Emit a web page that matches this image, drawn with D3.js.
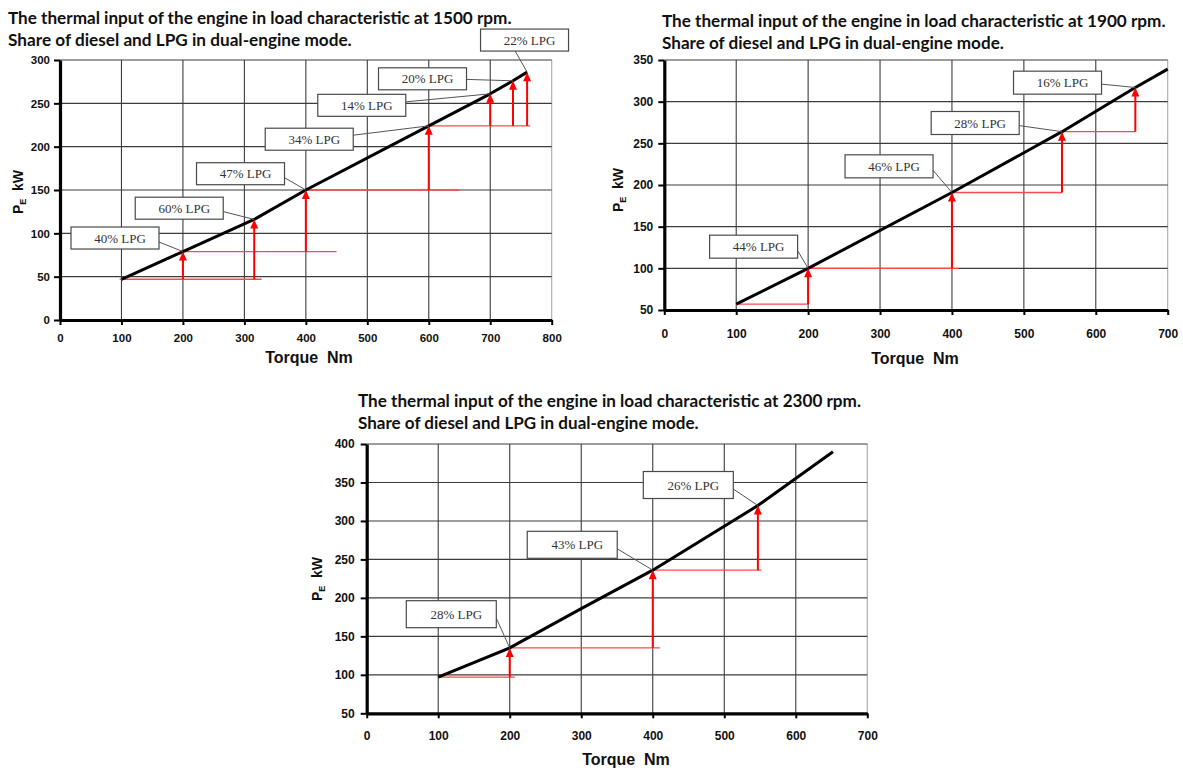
<!DOCTYPE html>
<html>
<head>
<meta charset="utf-8">
<script src="https://cdn.jsdelivr.net/npm/d3@7/dist/d3.min.js"></script>
<style>
  html, body { margin: 0; padding: 0; background: #fff; }
  svg { display: block; }
</style>
</head>
<body>
<svg id="chart" width="1183" height="770"></svg>
<script>
// ---------------- DATA ----------------
const titleLine1 = [
  "The thermal input of the engine in load characteristic at 1500 rpm.",
  "The thermal input of the engine in load characteristic at 1900 rpm.",
  "The thermal input of the engine in load characteristic at 2300 rpm."
];
const titleLine2 = "Share of diesel and LPG in dual-engine mode.";
const xAxisTitle = "Torque  Nm";

// Panel 1 : 1500 rpm
const p1XTicks = [0, 100, 200, 300, 400, 500, 600, 700, 800];
const p1YTicks = [0, 50, 100, 150, 200, 250, 300];
const p1Torque = [100, 200, 316, 400, 600, 700, 737, 760];
const p1Power  = [47, 79, 116, 150, 224, 261, 276, 286];
const p1ArrowTorque = [200, 316, 400, 600, 700, 737, 760];
const p1ArrowBase   = [47, 47, 79, 150, 224, 224, 224];
const p1HLevel = [47, 79, 150, 224];
const p1HStart = [97, 200, 400, 600];
const p1HEnd   = [328, 450, 650, 765];
const p1Labels = ["40% LPG", "60% LPG", "47% LPG", "34% LPG", "14% LPG", "20% LPG", "22% LPG"];
const p1LabelTorque = [89.5, 194, 293.7, 405.5, 491, 589.8, 755.8];
const p1LabelPower  = [94.6, 129, 168.8, 208.6, 247.7, 278.3, 323];

// Panel 2 : 1900 rpm
const p2XTicks = [0, 100, 200, 300, 400, 500, 600, 700];
const p2YTicks = [50, 100, 150, 200, 250, 300, 350];
const p2Torque = [100, 200, 400, 553, 655, 700];
const p2Power  = [57, 100, 191, 264, 317, 339];
const p2ArrowTorque = [200, 400, 553, 655];
const p2ArrowBase   = [57, 100, 191, 264];
const p2HLevel = [57, 100, 191, 264];
const p2HStart = [100, 200, 400, 553];
const p2HEnd   = [200, 409, 553, 655];
const p2Labels = ["44% LPG", "46% LPG", "28% LPG", "16% LPG"];
const p2LabelTorque = [124.2, 312.5, 432.3, 546.8];
const p2LabelPower  = [126, 222.4, 274.4, 322.8];

// Panel 3 : 2300 rpm
const p3XTicks = [0, 100, 200, 300, 400, 500, 600, 700];
const p3YTicks = [50, 100, 150, 200, 250, 300, 350, 400];
const p3Torque = [100, 200, 300, 400, 547, 652];
const p3Power  = [97, 135, 186, 236, 320, 390];
const p3ArrowTorque = [200, 400, 547];
const p3ArrowBase   = [97, 135, 236];
const p3HLevel = [97, 135, 236];
const p3HStart = [100, 200, 400];
const p3HEnd   = [207, 410, 552];
const p3Labels = ["28% LPG", "43% LPG", "26% LPG"];
const p3LabelTorque = [118.3, 287.4, 449.7];
const p3LabelPower  = [178.8, 269, 346.7];

// ---------------- LAYOUT ----------------
const svg = d3.select("#chart");

const panels = [
  {
    xDomain: [0, 800], yDomain: [0, 300], left: 60, right: 551.7, top: 60, bottom: 320,
    xTicks: p1XTicks, yTicks: p1YTicks, torque: p1Torque, power: p1Power,
    arrowT: p1ArrowTorque, arrowB: p1ArrowBase,
    hLevel: p1HLevel, hStart: p1HStart, hEnd: p1HEnd,
    labels: p1Labels, labelT: p1LabelTorque, labelP: p1LabelPower,
    boxW: 88, boxH: 22, tickFs: 11.5, yGap: 10, xLabOff: 21.7,
    title: titleLine1[0], tx: 8, tb1: 24, tb2: 46, tw1: 504, tw2: 344,
    xtCx: 309, xtB: 363, ytX: 23, ytY: 192
  },
  {
    xDomain: [0, 700], yDomain: [50, 350], left: 664.3, right: 1167.7, top: 60, bottom: 310,
    xTicks: p2XTicks, yTicks: p2YTicks, torque: p2Torque, power: p2Power,
    arrowT: p2ArrowTorque, arrowB: p2ArrowBase,
    hLevel: p2HLevel, hStart: p2HStart, hEnd: p2HEnd,
    labels: p2Labels, labelT: p2LabelTorque, labelP: p2LabelPower,
    boxW: 88, boxH: 23, tickFs: 12, yGap: 11, xLabOff: 28,
    title: titleLine1[1], tx: 662, tb1: 26.5, tb2: 48.5, tw1: 504, tw2: 342,
    xtCx: 915, xtB: 364, ytX: 623, ytY: 190
  },
  {
    xDomain: [0, 700], yDomain: [50, 400], left: 366.7, right: 867.3, top: 444, bottom: 713.3,
    xTicks: p3XTicks, yTicks: p3YTicks, torque: p3Torque, power: p3Power,
    arrowT: p3ArrowTorque, arrowB: p3ArrowBase,
    hLevel: p3HLevel, hStart: p3HStart, hEnd: p3HEnd,
    labels: p3Labels, labelT: p3LabelTorque, labelP: p3LabelPower,
    boxW: 90, boxH: 27, tickFs: 12, yGap: 12, xLabOff: 27,
    title: titleLine1[2], tx: 358, tb1: 406.5, tb2: 428.5, tw1: 503, tw2: 341,
    xtCx: 626, xtB: 765, ytX: 321.5, ytY: 579
  }
];

function fitText(sel, target, startSize) {
  sel.style("font-size", startSize + "px");
  const len = sel.node().getComputedTextLength();
  if (len > 0) sel.style("font-size", (startSize * target / len).toFixed(2) + "px");
}

function drawPanel(c) {
  const g = svg.append("g");
  const x = d3.scaleLinear().domain(c.xDomain).range([c.left, c.right]);
  const y = d3.scaleLinear().domain(c.yDomain).range([c.bottom, c.top]);
  const xMax = c.xDomain[1];

  // grid
  g.append("g").selectAll("line").data(c.xTicks.filter(d => d > c.xDomain[0]))
    .join("line")
    .attr("x1", d => x(d)).attr("x2", d => x(d))
    .attr("y1", y(c.yDomain[1])).attr("y2", y(c.yDomain[0]))
    .attr("stroke", d => d === xMax ? "#a8a8a8" : "#3c3c3c")
    .attr("stroke-width", 1.1);
  g.append("g").selectAll("line").data(c.yTicks.filter(d => d > c.yDomain[0]))
    .join("line")
    .attr("x1", x(c.xDomain[0])).attr("x2", x(xMax))
    .attr("y1", d => y(d)).attr("y2", d => y(d))
    .attr("stroke", "#3c3c3c")
    .attr("stroke-width", 1.1);

  // red horizontal guide lines
  g.append("g").selectAll("line").data(c.hLevel)
    .join("line")
    .attr("x1", (d, i) => x(c.hStart[i])).attr("x2", (d, i) => x(c.hEnd[i]))
    .attr("y1", d => y(d)).attr("y2", d => y(d))
    .attr("stroke", "#ff4a4a").attr("stroke-width", 1.3);

  // main characteristic
  const pts = c.torque.map((t, i) => [t, c.power[i]]);
  g.append("path").datum(pts)
    .attr("d", d3.line().x(d => x(d[0])).y(d => y(d[1])).curve(d3.curveLinear))
    .attr("fill", "none").attr("stroke", "#000").attr("stroke-width", 3)
    .attr("stroke-linejoin", "round");

  // arrows
  const tip = t => c.power[c.torque.indexOf(t)];
  const ag = g.append("g");
  c.arrowT.forEach((t, i) => {
    const ax = x(t), y0 = y(c.arrowB[i]), y1 = y(tip(t));
    ag.append("line").attr("x1", ax).attr("x2", ax).attr("y1", y0).attr("y2", y1 + 6)
      .attr("stroke", "#ff0000").attr("stroke-width", 2);
    ag.append("path")
      .attr("d", `M${ax},${y1} L${ax - 4},${y1 + 9} L${ax + 4},${y1 + 9} Z`)
      .attr("fill", "#ff0000");
  });

  // label boxes with leader lines
  const lg = g.append("g");
  c.labels.forEach((txt, i) => {
    const cx = x(c.labelT[i]), cy = y(c.labelP[i]);
    const bx = cx - c.boxW / 2, by = cy - c.boxH / 2;
    const px = x(c.arrowT[i]), py = y(tip(c.arrowT[i]));
    let sx, sy;
    if (px < bx + c.boxW + 4) { sx = Math.min(px - 12, bx + c.boxW - 4); sy = by + c.boxH; }
    else { sx = bx + c.boxW; sy = cy + Math.max(-4, Math.min(4, (py - cy) * 0.3)); }
    lg.append("line").attr("x1", sx).attr("y1", sy).attr("x2", px).attr("y2", py)
      .attr("stroke", "#555").attr("stroke-width", 1);
    lg.append("rect").attr("x", bx).attr("y", by).attr("width", c.boxW).attr("height", c.boxH)
      .attr("fill", "#fff").attr("stroke", "#4a4a4a").attr("stroke-width", 1.2);
    lg.append("text").attr("x", cx + 5).attr("y", cy)
      .attr("dy", "0.35em").attr("text-anchor", "middle")
      .style("font-family", "'Liberation Serif', 'Times New Roman', serif")
      .style("font-size", "13px").style("fill", "#333")
      .text(txt);
  });

  // axes
  const yAxis = g.append("g").attr("transform", `translate(${c.left},0)`)
    .call(d3.axisLeft(y).tickValues(c.yTicks).tickSize(6).tickSizeOuter(0).tickPadding(c.yGap - 6));
  const xPad = c.xLabOff - 5 - 0.71 * c.tickFs;
  const xAxis = g.append("g").attr("transform", `translate(0,${c.bottom})`)
    .call(d3.axisBottom(x).tickValues(c.xTicks).tickSize(5).tickSizeOuter(0).tickPadding(xPad));
  [yAxis, xAxis].forEach(a => {
    a.select(".domain").attr("stroke", "#000").attr("stroke-width", 3.2);
    a.selectAll(".tick line").attr("stroke", "#000").attr("stroke-width", 2);
    a.selectAll(".tick text")
      .style("font-family", "'Liberation Sans', Arial, sans-serif")
      .style("font-weight", "bold").style("font-size", c.tickFs + "px").style("fill", "#111");
  });

  // axis titles
  g.append("text").attr("x", c.xtCx).attr("y", c.xtB).attr("text-anchor", "middle")
    .style("font-family", "'Liberation Sans', Arial, sans-serif").style("font-weight", "bold")
    .style("font-size", "16px").style("fill", "#111").style("white-space", "pre")
    .attr("xml:space", "preserve")
    .text(xAxisTitle);

  const yt = g.append("text")
    .attr("transform", `translate(${c.ytX},${c.ytY}) rotate(-90)`)
    .attr("text-anchor", "middle")
    .style("font-family", "'Liberation Sans', Arial, sans-serif").style("font-weight", "bold")
    .style("font-size", "14px").style("fill", "#111").attr("xml:space", "preserve");
  yt.append("tspan").text("P");
  yt.append("tspan").attr("dy", "3").style("font-size", "9px").text("E");
  yt.append("tspan").attr("dy", "-3").text("  kW");

  // titles
  const t1 = g.append("text").attr("x", c.tx).attr("y", c.tb1)
    .style("font-family", "Lato, 'Open Sans', sans-serif").style("font-weight", "bold")
    .style("fill", "#111").text(c.title);
  fitText(t1, c.tw1, 17);
  const t2 = g.append("text").attr("x", c.tx).attr("y", c.tb2)
    .style("font-family", "Lato, 'Open Sans', sans-serif").style("font-weight", "bold")
    .style("fill", "#111").text(titleLine2);
  fitText(t2, c.tw2, 17);
}

panels.forEach(drawPanel);
</script>
</body>
</html>
